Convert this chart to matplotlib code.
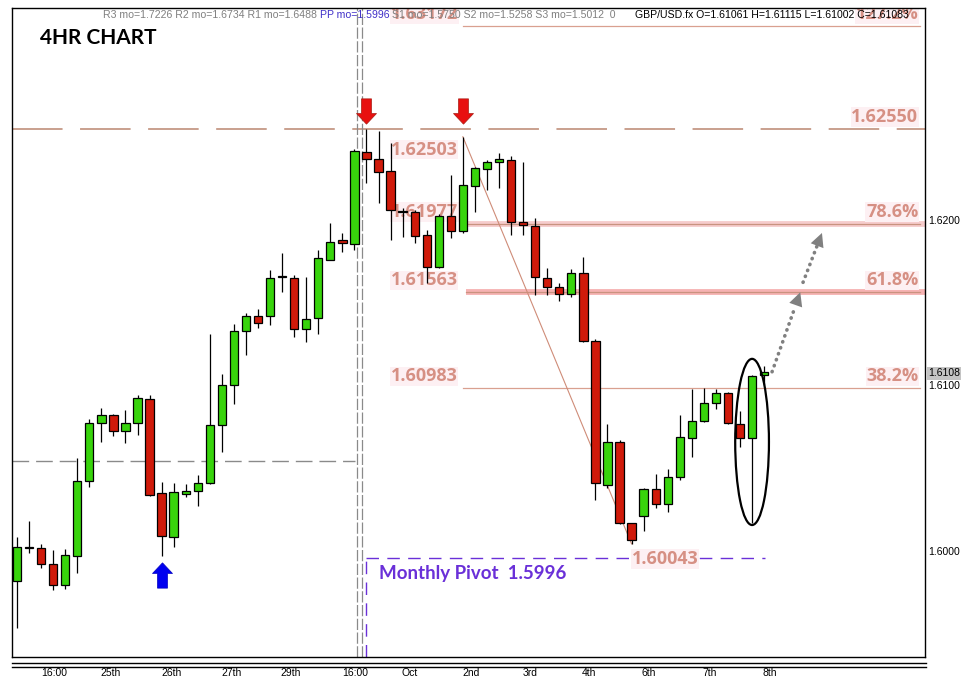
import matplotlib
matplotlib.use("Agg")
import matplotlib.pyplot as plt
import matplotlib.transforms as mtransforms
from matplotlib.path import Path
from matplotlib.patches import Ellipse
from matplotlib.lines import Line2D

# GBP/USD 4H candles
opens = [1.59821, 1.60022, 1.60016, 1.59920, 1.59793, 1.59968, 1.60421, 1.60772, 1.60820, 1.60727,
         1.60772, 1.60917, 1.60349, 1.60083, 1.60346, 1.60361, 1.60409, 1.60759, 1.61001, 1.61327,
         1.61418, 1.61418, 1.61655, 1.61651, 1.61340, 1.61406, 1.61758, 1.61877, 1.61853, 1.62413,
         1.62367, 1.62296, 1.62052, 1.62050, 1.61909, 1.61714, 1.62024, 1.61935, 1.62205, 1.62306,
         1.62349, 1.62362, 1.61990, 1.61964, 1.61648, 1.61597, 1.61553, 1.61678, 1.61267, 1.60399,
         1.60657, 1.60171, 1.60213, 1.60373, 1.60282, 1.60449, 1.60685, 1.60787, 1.60892, 1.60953,
         1.60766, 1.60681, 1.61061]
highs = [1.60086, 1.60183, 1.60042, 1.60006, 1.60012, 1.60562, 1.60798, 1.60864, 1.60828, 1.60852,
         1.60943, 1.60943, 1.60419, 1.60413, 1.60405, 1.60459, 1.61311, 1.61069, 1.61372, 1.61436,
         1.61462, 1.61698, 1.61802, 1.61668, 1.61657, 1.61819, 1.61982, 1.61920, 1.62427, 1.62550,
         1.62540, 1.62463, 1.62071, 1.62060, 1.61939, 1.62036, 1.62272, 1.62503, 1.62322, 1.62362,
         1.62403, 1.62387, 1.62352, 1.62010, 1.61708, 1.61621, 1.61702, 1.61775, 1.61279, 1.60766,
         1.60671, 1.60171, 1.60380, 1.60465, 1.60494, 1.60824, 1.60977, 1.60983, 1.60977, 1.60962,
         1.60846, 1.61061, 1.61115]
lows = [1.59535, 1.59988, 1.59899, 1.59764, 1.59772, 1.59865, 1.60389, 1.60657, 1.60695, 1.60654,
        1.60701, 1.60334, 1.59970, 1.60026, 1.60328, 1.60272, 1.60405, 1.60600, 1.60890, 1.61184,
        1.61349, 1.61365, 1.61563, 1.61291, 1.61265, 1.61311, 1.61758, 1.61808, 1.61819, 1.62222,
        1.62101, 1.61879, 1.61899, 1.61859, 1.61617, 1.61710, 1.61889, 1.61920, 1.62050, 1.62181,
        1.62191, 1.61909, 1.61909, 1.61547, 1.61547, 1.61512, 1.61533, 1.61260, 1.60308, 1.60379,
        1.60165, 1.60043, 1.60123, 1.60258, 1.60237, 1.60429, 1.60566, 1.60780, 1.60856, 1.60765,
        1.60630, 1.60167, 1.61002]
closes = [1.60022, 1.60018, 1.59920, 1.59793, 1.59974, 1.60423, 1.60772, 1.60820, 1.60727, 1.60772,
          1.60923, 1.60338, 1.60089, 1.60355, 1.60361, 1.60409, 1.60759, 1.61001, 1.61327, 1.61418,
          1.61376, 1.61651, 1.61660, 1.61340, 1.61404, 1.61768, 1.61869, 1.61859, 1.62417, 1.62367,
          1.62288, 1.62060, 1.62048, 1.61905, 1.61714, 1.62026, 1.61935, 1.62211, 1.62312, 1.62352,
          1.62368, 1.61990, 1.61970, 1.61654, 1.61597, 1.61553, 1.61680, 1.61271, 1.60409, 1.60657,
          1.60171, 1.60066, 1.60373, 1.60282, 1.60449, 1.60687, 1.60787, 1.60892, 1.60953, 1.60772,
          1.60681, 1.61057, 1.61083]

tick_labels = ["16:00", "25th", "26th", "27th", "29th", "16:00", "Oct", "2nd", "3rd", "4th", "6th", "7th", "8th"]
tick_pos = [3.1, 7.8, 12.8, 17.8, 22.7, 28.05, 32.6, 37.7, 42.6, 47.5, 52.4, 57.5, 62.5]
price_ticks = [1.6000, 1.6100, 1.6200]

resistance = 1.62550
monthly_pivot = 1.5996
prev_level = 1.60544
fib_high = 1.62503
fib_low = 1.60043
fib_ratios = [0.382, 0.618, 0.786, 1.272]
fib_pct = ["38.2%", "61.8%", "78.6%", "127.2%"]
high_bar, low_bar = 37, 51

header_parts = [
    ("R3 mo=1.7226 R2 mo=1.6734 R1 mo=1.6488 ", "#808080"),
    ("PP mo=1.5996", "#4030c8"),
    (" S1 mo=1.5750 S2 mo=1.5258 S3 mo=1.5012  0", "#808080"),
]
symbol_text = "GBP/USD.fx O=1.61061 H=1.61115 L=1.61002 C=1.61083"

BULL = "#38d40c"
BEAR = "#d01a0a"
SALMON = "#d69084"
PURPLE = "#6a30d8"

W, H, DPI = 970, 692, 100
fig = plt.figure(figsize=(W / DPI, H / DPI), dpi=DPI)
fig.set_facecolor("white")
ax = fig.add_axes([12 / W, 1 - 657 / H, (925 - 12) / W, (657 - 7.5) / H])
ax.set_xlim(-0.415, 75.35)
ax.set_ylim(1.593595, 1.632840)

def shifted(dy):
    return mtransforms.offset_copy(ax.transData, fig=fig, x=0, y=dy, units="dots")

# candles
xs = list(range(len(opens)))
ax.vlines(xs, lows, highs, color="black", lw=0.9, zorder=3)
bottoms = [min(o, c) for o, c in zip(opens, closes)]
heights = [max(abs(c - o), 0.00003) for o, c in zip(opens, closes)]
colors = [BULL if c >= o else BEAR for o, c in zip(opens, closes)]
ax.bar(xs, heights, bottom=bottoms, width=0.69, color=colors, edgecolor="black", linewidth=0.9, zorder=4)

# resistance dashed line
ax.axhline(resistance, color="#c9a08e", lw=1.4, dashes=(26, 9), zorder=1)
ax.text(74.8, resistance, f"{resistance:.5f}", transform=shifted(12), ha="right", va="center",
        fontsize=13, fontweight="bold", family="Open Sans", color=SALMON, zorder=1,
        bbox=dict(facecolor="#fdf0f3", edgecolor="none", pad=0.5))

# old pivot and period separators
ax.plot([-0.415, 28.05], [prev_level, prev_level], color="#8a8a8a", lw=1, dashes=(12, 5), zorder=1)
for vx in (28.2, 28.6):
    ax.axvline(vx, color="#8a8a8a", lw=0.9, dashes=(9, 2), zorder=1)

# monthly pivot
ax.plot([28.95, 62.1], [monthly_pivot, monthly_pivot], color=PURPLE, lw=1, dashes=(9, 6), zorder=1)
ax.plot([28.95, 28.95], [1.593595, monthly_pivot], color=PURPLE, lw=1, dashes=(9, 6), zorder=1)
ax.text(30.0, monthly_pivot, f"Monthly Pivot  {monthly_pivot:.4f}", transform=shifted(-16),
        ha="left", va="center", fontsize=13.5, fontweight="bold", family="Lato", color=PURPLE, zorder=5)

# fibonacci
ax.plot([high_bar, low_bar], [fib_high, fib_low], color="#cf8c78", lw=0.8, zorder=2)
fib_end = 74.9
for r, pct in zip(fib_ratios, fib_pct):
    lvl = fib_low + (fib_high - fib_low) * r
    if r in (0.618, 0.786):
        band = "#f6b2b2" if r == 0.618 else "#f6cccc"
        ax.plot([37.3, 75.35], [lvl, lvl], color=band, lw=4.2, solid_capstyle="butt", zorder=1)
        ax.plot([37.3, fib_end], [lvl, lvl], color="#c99380", lw=0.9, zorder=1)
    else:
        ax.plot([high_bar, fib_end], [lvl, lvl], color="#d9a090", lw=0.9, zorder=1)
    ax.text(fib_end - 0.1, lvl, pct, transform=shifted(12), ha="right", va="center", fontsize=13,
            fontweight="bold", family="Open Sans", color=SALMON, zorder=1, clip_on=True,
            bbox=dict(facecolor="#fdf0f3", edgecolor="none", pad=0.5))
    ax.text(31.0, lvl, f"{lvl:.5f}", transform=shifted(12), ha="left", va="center", fontsize=13,
            fontweight="bold", family="Open Sans", color=SALMON, zorder=1, clip_on=True,
            bbox=dict(facecolor="#fdf0f3", edgecolor="none", pad=0.5))
ax.text(31.0, fib_high, f"{fib_high:.5f}", transform=shifted(-13), ha="left", va="center", fontsize=13,
        fontweight="bold", family="Open Sans", color=SALMON, zorder=1,
        bbox=dict(facecolor="#fdf0f3", edgecolor="none", pad=0.5))
ax.text(low_bar, fib_low, f"{fib_low:.5f}", transform=shifted(-15), ha="left", va="center", fontsize=13,
        fontweight="bold", family="Open Sans", color=SALMON, zorder=1,
        bbox=dict(facecolor="#fdf0f3", edgecolor="none", pad=0.5))

# arrows as custom markers
down = Path([(-5, 12.65), (5, 12.65), (5, -2.05), (10, -2.05), (0, -12.65), (-10, -2.05), (-5, -2.05), (-5, 12.65)], closed=True)
up = Path([(-5, -12.65), (5, -12.65), (5, 2.05), (10, 2.05), (0, 12.65), (-10, 2.05), (-5, 2.05), (-5, -12.65)], closed=True)
for bar in (29, high_bar):
    ax.plot(bar, resistance, marker=down, markersize=18.2, color="#e81010", mec="#a81a10", mew=0.5,
            transform=shifted(18.3), zorder=6)
ax.plot(12, lows[12], marker=up, markersize=18.2, color="#0000f0", mec="#0000c0", mew=0.5,
        transform=shifted(-18.7), zorder=6)

# ellipse around the last big candle
ell = Ellipse((61, (highs[61] + lows[61]) / 2 + 0.00045), 2.8, highs[61] - lows[61] + 0.0011,
              fill=False, edgecolor="black", lw=1.6, zorder=6)
ax.add_patch(ell)

# projected path
fib618 = fib_low + (fib_high - fib_low) * 0.618
fib786 = fib_low + (fib_high - fib_low) * 0.786
legs = [((62.66, closes[-1]), (65.0, fib618)), ((65.23, fib618 + 0.0006), (66.8, fib786 - 0.00055))]
for (x0, y0), (x1, y1) in legs:
    ax.plot([x0, x0 + (x1 - x0) * 0.82], [y0, y0 + (y1 - y0) * 0.82], color="#808080", lw=2.6,
            linestyle=(0, (0.1, 1.65)), dash_capstyle="round", zorder=6)
    ax.annotate("", xy=(x1, y1), xytext=(x0, y0),
                arrowprops=dict(arrowstyle="-|>,head_length=0.7,head_width=0.35", mutation_scale=14,
                                color="#808080", lw=0, shrinkA=0, shrinkB=0), zorder=6)

# axes styling
for sp in ax.spines.values():
    sp.set_color("black")
    sp.set_linewidth(1)
ax.yaxis.tick_right()
ax.set_yticks(price_ticks, [f"{p:.4f}" for p in price_ticks])
ax.set_xticks(tick_pos, tick_labels)
ax.tick_params(axis="y", length=0, pad=2.5, labelsize=7.5)
ax.tick_params(axis="x", length=0, pad=8, labelsize=7.5)
for lab in ax.get_xticklabels() + ax.get_yticklabels():
    lab.set_family("Liberation Sans")

last_tf = mtransforms.blended_transform_factory(ax.transAxes, ax.transData)
ax.text(1.0, closes[-1], f"{closes[-1]:.4f}", transform=mtransforms.offset_copy(last_tf, fig=fig, x=3, y=-1.5, units="dots"),
        ha="left", va="center", fontsize=7.5, family="Liberation Sans", color="black", clip_on=False,
        bbox=dict(facecolor="#c4c4c4", edgecolor="none", pad=1))

# double rule under the plot
for yy in (663, 666.5):
    fig.add_artist(Line2D([12 / W, 926 / W], [1 - yy / H, 1 - yy / H], color="black", lw=1))

# titles / header
fig.text(40.5 / W, 1 - 38.5 / H, "4HR CHART", fontsize=15, fontweight="bold", family="Lato",
         va="center", ha="left", color="black")

renderer = fig.canvas.get_renderer()
x = 103 / W
for txt, col in header_parts:
    t = fig.text(x, 1 - 15 / H, txt, fontsize=7.6, family="Liberation Sans", color=col, va="center", ha="left", zorder=10)
    bb = t.get_window_extent(renderer)
    x = bb.x1 / fig.bbox.width
fig.text(635 / W, 1 - 15 / H, symbol_text, fontsize=7.6, family="Liberation Sans", color="black",
         va="center", ha="left", zorder=10)

fig.savefig("out.png", dpi=DPI, facecolor="white")
